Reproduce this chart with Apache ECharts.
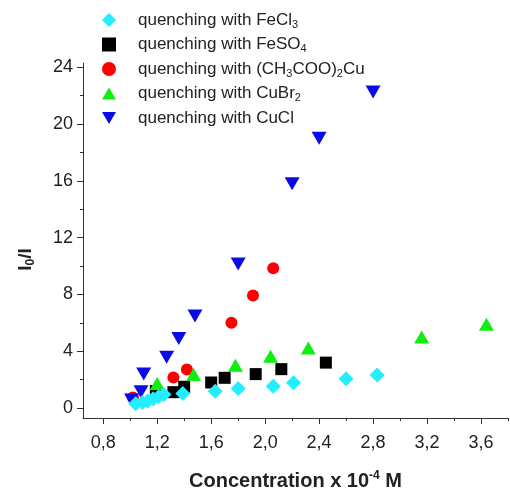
<!DOCTYPE html>
<html>
<head>
<meta charset="utf-8">
<script src="https://cdn.jsdelivr.net/npm/echarts@6/dist/echarts.min.js"></script>
<style>html,body{margin:0;padding:0;background:#fff}#c{width:510px;height:490px}</style>
</head>
<body>
<div id="c"></div>
<script>
// Series data [concentration (x10^-4 M), I0/I]
const fecl3 = [[1.04,0.3],[1.09,0.4],[1.13,0.5],[1.17,0.65],[1.21,0.8],[1.25,0.95],[1.39,1.03],[1.63,1.19],[1.8,1.38],[2.06,1.54],[2.21,1.78],[2.6,2.06],[2.83,2.32]];
const feso4 = [[1.19,1.2],[1.32,1.12],[1.4,1.5],[1.6,1.8],[1.7,2.13],[1.93,2.39],[2.12,2.74],[2.45,3.2]];
const cuAcetate = [[1.02,0.75],[1.32,2.15],[1.42,2.71],[1.75,6.0],[1.91,7.93],[2.06,9.85]];
const cubr2 = [[1.2,1.73],[1.47,2.37],[1.78,3.02],[2.04,3.65],[2.32,4.23],[3.16,5.0],[3.64,5.9]];
const cucl = [[1.01,0.56],[1.08,1.14],[1.1,2.39],[1.27,3.58],[1.36,4.89],[1.48,6.48],[1.8,10.15],[2.2,15.8],[2.4,19.0],[2.8,22.25]];

const seriesNames = ['quenching with FeCl3','quenching with FeSO4','quenching with (CH3COO)2Cu','quenching with CuBr2','quenching with CuCl'];

// Tick values
const xMajor = [0.8,1.2,1.6,2.0,2.4,2.8,3.2,3.6];
const xMinor = [1.0,1.4,1.8,2.2,2.6,3.0,3.4,3.8];
const yMajor = [0,4,8,12,16,20,24];
const yMinor = [2,6,10,14,18,22];

const FONT = "'Liberation Sans', Arial, sans-serif";
const TXT = '#222';
const AX = '#333';
const DOWN_TRI = 'path://M0,0L14,0L7,12Z';

const chart = echarts.init(document.getElementById('c'));
const axisLine = {show:true, onZero:false, lineStyle:{color:AX, width:1}};

chart.setOption({
  animation:false,
  backgroundColor:'#fff',
  grid:{left:83, right:2, top:63, bottom:72, outerBoundsMode:'none', containLabel:false},
  legend:{
    orient:'vertical', left:97, top:5,
    itemWidth:14, itemHeight:14, itemGap:4.5,
    data:[
      {name:seriesNames[0], icon:'diamond'},
      {name:seriesNames[1], icon:'path://M0,0L12,0L12,12L0,12Z'},
      {name:seriesNames[2], icon:'path://M6,0A6,6,0,1,1,5.99,0Z'},
      {name:seriesNames[3], icon:'path://M0,12L14,12L7,0Z'},
      {name:seriesNames[4], icon:DOWN_TRI}
    ],
    textStyle:{fontFamily:FONT, fontSize:17, color:TXT, lineHeight:20, padding:[0,0,0,17],
      rich:{s:{fontFamily:FONT, fontSize:11, color:TXT, lineHeight:8, verticalAlign:'bottom'}}},
    formatter:name => name.replace(/(\d)/g,'{s|$1}')
  },
  xAxis:[{
    type:'value', min:0.65, max:3.8,
    axisLine:axisLine,
    axisTick:{show:true, inside:false, length:6, customValues:xMajor, lineStyle:{color:AX}},
    axisLabel:{customValues:xMajor, margin:16, fontFamily:FONT, fontSize:18, color:TXT,
      formatter:v => v.toFixed(1).replace('.',',')},
    splitLine:{show:false},
    name:'Concentration x 10{sup|-4} M', nameLocation:'middle', nameGap:52,
    nameTextStyle:{fontFamily:FONT, fontSize:20, fontWeight:'bold', color:TXT, lineHeight:22,
      rich:{sup:{fontFamily:FONT, fontSize:12, fontWeight:'bold', color:TXT, lineHeight:8, verticalAlign:'top'}}}
  },{
    type:'value', min:0.65, max:3.8, position:'bottom',
    axisLine:{show:false, onZero:false},
    axisTick:{show:true, length:3, customValues:xMinor, lineStyle:{color:AX}},
    axisLabel:{show:false}, splitLine:{show:false}
  }],
  yAxis:[{
    type:'value', min:-0.7, max:24.3,
    axisLine:axisLine,
    axisTick:{show:true, length:6, customValues:yMajor, lineStyle:{color:AX}},
    axisLabel:{customValues:yMajor, margin:10, fontFamily:FONT, fontSize:18, color:TXT},
    splitLine:{show:false},
    name:'I{s|0}/I', nameLocation:'middle', nameGap:46, nameRotate:90,
    nameTextStyle:{fontFamily:FONT, fontSize:19, fontWeight:'bold', color:TXT, lineHeight:22, padding:[0,38,0,0],
      rich:{s:{fontFamily:FONT, fontSize:12, fontWeight:'bold', color:TXT, lineHeight:8, verticalAlign:'bottom'}}}
  },{
    type:'value', min:-0.7, max:24.3, position:'left',
    axisLine:{show:false, onZero:false},
    axisTick:{show:true, length:3, customValues:yMinor, lineStyle:{color:AX}},
    axisLabel:{show:false}, splitLine:{show:false}
  }],
  series:[
    {name:seriesNames[2], type:'scatter', data:cuAcetate, symbol:'circle', symbolSize:12, itemStyle:{color:'#ff0000', opacity:1}},
    {name:seriesNames[4], type:'scatter', data:cucl, symbol:'triangle', symbolRotate:180, symbolSize:[15,13], itemStyle:{color:'#0a0ae6', opacity:1}},
    {name:seriesNames[1], type:'scatter', data:feso4, symbol:'rect', symbolSize:12, itemStyle:{color:'#000000', opacity:1}},
    {name:seriesNames[3], type:'scatter', data:cubr2, symbol:'triangle', symbolSize:[15,13], itemStyle:{color:'#10ee10', opacity:1}},
    {name:seriesNames[0], type:'scatter', data:fecl3, symbol:'diamond', symbolSize:15, itemStyle:{color:'#22eeff', opacity:1}}
  ]
});
</script>
</body>
</html>
